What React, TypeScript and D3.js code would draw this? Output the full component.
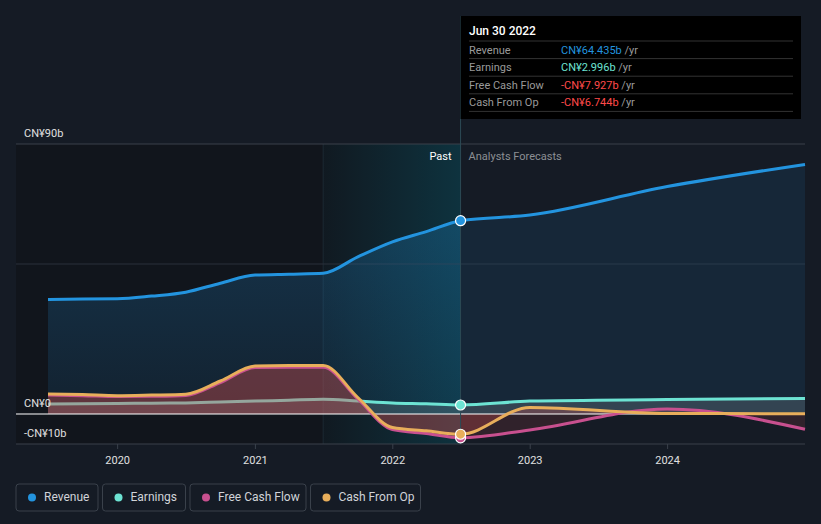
import * as d3 from "d3";

// quarterly history, then analyst forecasts (CN¥ billions)
const pastDates = [
  "2019-06-30", "2019-09-30", "2019-12-31", "2020-03-31", "2020-06-30",
  "2020-09-30", "2020-12-31", "2021-03-31", "2021-06-30", "2021-09-30",
  "2021-12-31", "2022-03-31", "2022-06-30",
];
const futureDates = ["2022-12-31", "2023-12-31", "2024-12-31"];

const revenuePast = [38.2, 38.3, 38.4, 39.3, 40.6, 43.6, 46.3, 46.6, 46.9, 52.4, 57.4, 60.8, 64.435];
const revenueFuture = [66.3, 75.8, 83.2];
const earningsPast = [3.3, 3.4, 3.5, 3.6, 3.7, 4.0, 4.3, 4.6, 4.9, 4.3, 3.7, 3.4, 2.996];
const earningsFuture = [4.3, 4.8, 5.2];
const fcfPast = [6.3, 6.1, 5.8, 5.9, 6.2, 10.5, 15.5, 15.6, 15.6, 5.0, -5.2, -6.5, -7.927];
const fcfFuture = [-5.3, 1.7, -5.1];
const cfoPast = [6.7, 6.5, 6.1, 6.3, 6.6, 11.0, 16.0, 16.2, 16.2, 5.5, -4.5, -5.6, -6.744];
const cfoFuture = [2.2, 0.2, 0.1];

const yTicks = [90, 0, -10];
const xTicks = [2020, 2021, 2022, 2023, 2024];

const legend = [
  { name: "Revenue", color: "#2394df" },
  { name: "Earnings", color: "#6de3d3" },
  { name: "Free Cash Flow", color: "#c8508f" },
  { name: "Cash From Op", color: "#e8ae5b" },
];

const tooltipRows = [
  { label: "Revenue", value: "CN¥64.435b", color: "#2394df" },
  { label: "Earnings", value: "CN¥2.996b", color: "#6de3d3" },
  { label: "Free Cash Flow", value: "-CN¥7.927b", color: "#ff4a4a" },
  { label: "Cash From Op", value: "-CN¥6.744b", color: "#ff4a4a" },
];

type Pt = { date: Date; v: number };

const parse = d3.timeParse("%Y-%m-%d");
const build = (past: number[], future: number[]): Pt[] => [
  ...past.map((v, i) => ({ date: parse(pastDates[i]) as Date, v })),
  ...future.map((v, i) => ({ date: parse(futureDates[i]) as Date, v })),
];

const WIDTH = 821;
const HEIGHT = 524;
const FONT = "Roboto, 'Open Sans', sans-serif";

export default function App() {
  const revenue = build(revenuePast, revenueFuture);
  const earnings = build(earningsPast, earningsFuture);
  const fcf = build(fcfPast, fcfFuture);
  const cfo = build(cfoPast, cfoFuture);

  const x = d3
    .scaleTime()
    .domain([parse("2019-06-30") as Date, parse("2024-12-31") as Date])
    .range([48, 805]);
  const y = d3.scaleLinear().domain([-10, 90]).range([444, 144]);

  const now = parse("2022-06-30") as Date;
  const nowX = x(now);
  const yearAgoX = x(parse("2021-06-30") as Date);

  const line = d3
    .line<Pt>()
    .x((d) => x(d.date))
    .y((d) => y(d.v))
    .curve(d3.curveMonotoneX);
  const area = d3
    .area<Pt>()
    .x((d) => x(d.date))
    .y0(y(0))
    .y1((d) => y(d.v))
    .curve(d3.curveMonotoneX);

  const marks = [
    { data: revenue, color: "#2394df" },
    { data: earnings, color: "#6de3d3" },
    { data: fcf, color: "#c8508f" },
    { data: cfo, color: "#e8ae5b" },
  ];

  // legend boxes
  const boxW = [82, 83, 116, 110];
  let lx = 16;
  const legendItems = legend.map((l, i) => {
    const item = { ...l, x: lx, w: boxW[i] };
    lx += boxW[i] + 4.5;
    return item;
  });

  return (
    <svg
      width={WIDTH}
      height={HEIGHT}
      style={{ position: "absolute", left: 0, top: 0, background: "#151b25", fontFamily: FONT }}
    >
      <defs>
        <linearGradient id="revFill" x1="0" y1="0" x2="0" y2="1">
          <stop offset="0%" stopColor="#2394df" stopOpacity={0.28} />
          <stop offset="100%" stopColor="#2394df" stopOpacity={0.1} />
        </linearGradient>
        <linearGradient id="hiFill" x1="0" y1="0" x2="1" y2="0">
          <stop offset="0%" stopColor="#00a8c8" stopOpacity={0.03} />
          <stop offset="100%" stopColor="#00a8c8" stopOpacity={0.2} />
        </linearGradient>
        <clipPath id="pastClip">
          <rect x={0} y={0} width={nowX} height={HEIGHT} />
        </clipPath>
        <clipPath id="futureClip">
          <rect x={nowX} y={0} width={WIDTH - nowX} height={HEIGHT} />
        </clipPath>
      </defs>

      {/* past backdrop and last-year highlight */}
      <rect x={16} y={y(90)} width={nowX - 16} height={y(-10) - y(90)} fill="#11151c" />
      <rect x={yearAgoX} y={y(90)} width={nowX - yearAgoX} height={y(-10) - y(90)} fill="url(#hiFill)" />
      <line x1={yearAgoX} x2={yearAgoX} y1={y(90)} y2={y(-10)} stroke="#1c2a33" />

      {/* grid */}
      <line x1={16} x2={805} y1={y(90)} y2={y(90)} stroke="#3a414b" />
      <line x1={16} x2={805} y1={y(50)} y2={y(50)} stroke="#2a313b" />
      <line x1={16} x2={805} y1={y(-10)} y2={y(-10)} stroke="#3a414b" />

      {/* areas */}
      <path d={area(revenue) || ""} fill="url(#revFill)" clipPath="url(#pastClip)" />
      <path d={area(revenue) || ""} fill="#2394df" fillOpacity={0.1} clipPath="url(#futureClip)" />
      <path d={area(earnings) || ""} fill="#8a9aa0" fillOpacity={0.25} />
      <path d={line(earnings) || ""} fill="none" stroke="#6de3d3" strokeWidth={3} />
      <path d={area(cfo) || ""} fill="#d0504f" fillOpacity={0.3} />
      <path d={area(fcf) || ""} fill="#d0504f" fillOpacity={0.15} />

      <line x1={16} x2={805} y1={y(0)} y2={y(0)} stroke="#ffffff" strokeWidth={1.2} />

      {/* lines */}
      {marks.slice(2).map((m) => (
        <path key={m.color} d={line(m.data) || ""} fill="none" stroke={m.color} strokeWidth={3} />
      ))}
      <path d={line(revenue) || ""} fill="none" stroke="#2394df" strokeWidth={3} />

      {/* now marker line */}
      <line x1={nowX} x2={nowX} y1={16} y2={444} stroke="#2c4a55" strokeWidth={1} />

      {marks.map((m) => {
        const p = m.data[pastDates.length - 1];
        return (
          <circle key={m.color} cx={x(p.date)} cy={y(p.v)} r={5} fill={m.color} stroke="#ffffff" strokeWidth={1.2} />
        );
      })}

      {/* y labels */}
      {yTicks.map((t) => (
        <text key={t} x={24} y={y(t) - 7} fontSize={11} fill="#e0e0e0">
          {t < 0 ? `-CN¥${-t}b` : t === 0 ? "CN¥0" : `CN¥${t}b`}
        </text>
      ))}

      {/* x axis */}
      {xTicks.map((t) => {
        const tx = x(new Date(t, 0, 1));
        return (
          <g key={t}>
            <line x1={tx} x2={tx} y1={444} y2={449} stroke="#3a414b" />
            <text x={tx} y={461} fontSize={11} fill="#e0e0e0" textAnchor="middle" dominantBaseline="middle">
              {t}
            </text>
          </g>
        );
      })}

      <text x={nowX - 9} y={160} fontSize={11} fill="#ffffff" textAnchor="end">
        Past
      </text>
      <text x={nowX + 8} y={160} fontSize={11} fill="#8c8f94">
        Analysts Forecasts
      </text>

      {/* tooltip */}
      <rect x={nowX} y={16} width={801 - nowX} height={103} fill="#000000" />
      <text x={469} y={35} fontSize={12} fill="#ffffff" fontWeight={500}>
        Jun 30 2022
      </text>
      {tooltipRows.map((r, i) => {
        const ry = 41 + i * 17.6;
        return (
          <g key={r.label}>
            <line x1={469} x2={793} y1={ry} y2={ry} stroke="#333" />
            <text x={469} y={ry + 12.5} fontSize={11} fill="#9a9a9a">
              {r.label}
            </text>
            <text x={561} y={ry + 12.5} fontSize={11}>
              <tspan fill={r.color}>{r.value}</tspan>
              <tspan fill="#9a9a9a"> /yr</tspan>
            </text>
          </g>
        );
      })}
      <line x1={469} x2={793} y1={41 + 4 * 17.6} y2={41 + 4 * 17.6} stroke="#333" />

      {/* legend */}
      {legendItems.map((l) => (
        <g key={l.name}>
          <rect x={l.x} y={484} width={l.w} height={27} rx={3} fill="none" stroke="#3a414b" />
          <circle cx={l.x + 16} cy={497.5} r={4} fill={l.color} />
          <text x={l.x + 28} y={497.5} fontSize={12} fill="#d0d3d8" dominantBaseline="middle">
            {l.name}
          </text>
        </g>
      ))}
    </svg>
  );
}
